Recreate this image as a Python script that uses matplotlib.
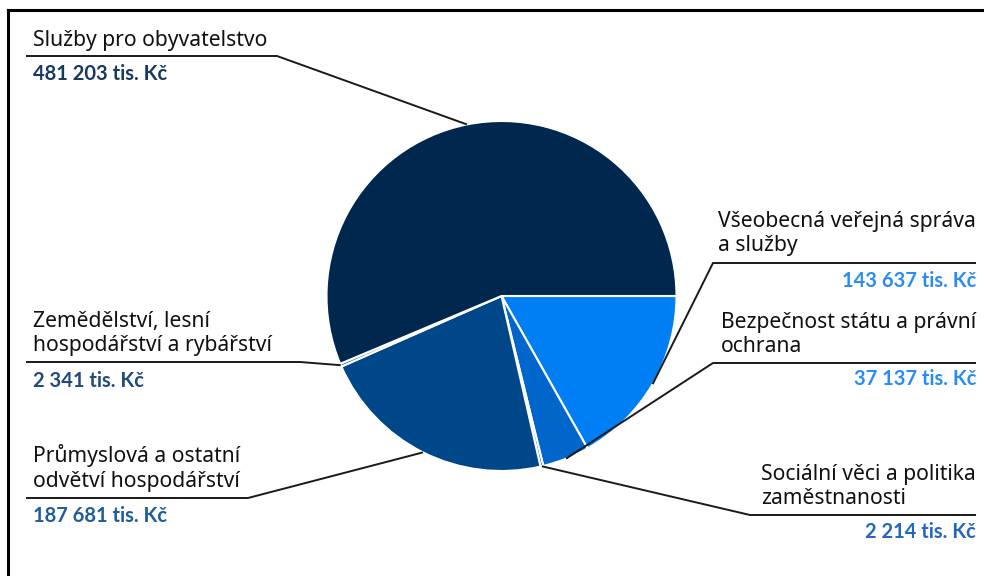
import matplotlib.pyplot as plt
import numpy as np
from matplotlib.lines import Line2D

# výdaje podle odvětví, tis. Kč (pořadí po směru hodinových ručiček od 3 hodin)
sectors = [
    "Všeobecná veřejná správa\na služby",
    "Bezpečnost státu a právní\nochrana",
    "Sociální věci a politika\nzaměstnanosti",
    "Průmyslová a ostatní\nodvětví hospodářství",
    "Zemědělství, lesní\nhospodářství a rybářství",
    "Služby pro obyvatelstvo",
]
amounts = [143637, 37137, 2214, 187681, 2341, 481203]
slice_colors = ["#007ff5", "#0066cc", "#0a5cb8", "#00478a", "#1d5a96", "#00274d"]
value_colors = ["#2a8cf2", "#2a8cf2", "#2266c0", "#1f5c9c", "#1f4c7c", "#173a60"]

W, H = 984, 576
fig = plt.figure(figsize=(W / 100, H / 100), dpi=100)
ax = fig.add_axes([0, 0, 1, 1])

wedges, _ = ax.pie(amounts, colors=slice_colors, startangle=0, counterclock=False,
                   center=(501.5, H - 296), radius=175, frame=True,
                   wedgeprops=dict(edgecolor="white", linewidth=1.5))
ax.set_xlim(0, W)
ax.set_ylim(0, H)
ax.set_aspect("auto")
ax.axis("off")

fs = 15.2
label_font = ["Noto Sans", "DejaVu Sans"]
value_font = ["Lato", "DejaVu Sans"]
line_kw = dict(color="#1a1a1a", linewidth=1.4, solid_capstyle="butt", zorder=5)

# layout: (side, first baseline, underline y, value baseline, underline start/end x)
layout = [
    ("right", 227, 263, 287, 713),
    ("right", 328, 363, 385, 713),
    ("right", 480, 515, 538, 750),
    ("left", 462, 498, 522, 248),
    ("left", 327, 362, 387, 300),
    ("left", 46, 56, 80, 277),
]


def fmt(v):
    return f"{v:,}".replace(",", " ") + " tis. Kč"


renderer = fig.canvas.get_renderer()
for w, name, amt, vcol, (side, base, uy, vy, ux) in zip(
        wedges, sectors, amounts, value_colors, layout):
    mid = np.deg2rad((w.theta1 + w.theta2) / 2)
    cx, cy = w.center
    px, py = cx + w.r * np.cos(mid), cy + w.r * np.sin(mid)
    lines = name.split("\n")
    if side == "left":
        tx, ha = 33, "left"
        ax.plot([26, ux, px], [H - uy, H - uy, py], **line_kw)
    else:
        tx, ha = 976, "right"
        ax.plot([976, ux, px], [H - uy, H - uy, py], **line_kw)
    texts = [ax.text(tx, H - base - i * 24.5, ln, ha=ha, va="baseline",
                     fontsize=fs, color="#111111", family=label_font)
             for i, ln in enumerate(lines)]
    if side == "right" and len(texts) > 1:
        # víceřádkový popisek zarovnaný vpravo jako blok, řádky zleva
        lefts = [t.get_window_extent(renderer).x0 for t in texts]
        x0 = min(lefts)
        for t in texts:
            t.set_ha("left")
            t.set_x(x0)
    ax.text(tx, H - vy, fmt(amt), ha=ha, va="baseline", fontsize=14.5,
            fontweight="bold", color=vcol, family=value_font)

# rámeček vlevo a nahoře
fig.add_artist(Line2D([8 / W, 1], [1 - 10 / H, 1 - 10 / H], color="black", linewidth=2.2))
fig.add_artist(Line2D([8 / W, 8 / W], [0, 1 - 10 / H], color="black", linewidth=2.2))

fig.savefig("out.png", dpi=100)
